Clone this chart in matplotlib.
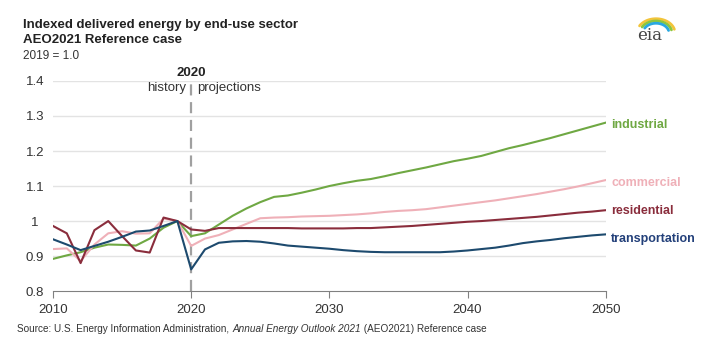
import numpy as np
import matplotlib
matplotlib.use('Agg')
import matplotlib.pyplot as plt

plt.rcParams['font.family'] = ['Liberation Sans', 'DejaVu Sans']

years = list(range(2010, 2051))

industrial = [0.892, 0.902, 0.911, 0.924, 0.933, 0.932, 0.930, 0.950, 0.981, 1.000,
              0.957, 0.965, 0.990, 1.015, 1.036, 1.054, 1.069, 1.073, 1.081, 1.090,
              1.100, 1.108, 1.115, 1.120, 1.128, 1.137, 1.145, 1.153, 1.162, 1.171,
              1.178, 1.186, 1.197, 1.208, 1.217, 1.227, 1.237, 1.248, 1.259, 1.270, 1.281]
commercial = [0.920, 0.922, 0.886, 0.933, 0.965, 0.971, 0.964, 0.965, 1.007, 1.000,
              0.929, 0.950, 0.960, 0.976, 0.992, 1.008, 1.010, 1.011, 1.013, 1.014,
              1.015, 1.017, 1.019, 1.022, 1.026, 1.029, 1.031, 1.034, 1.039, 1.044,
              1.049, 1.054, 1.059, 1.065, 1.071, 1.077, 1.084, 1.091, 1.099, 1.108, 1.117]
residential = [0.986, 0.965, 0.880, 0.974, 1.000, 0.957, 0.916, 0.910, 1.010, 1.000,
               0.976, 0.972, 0.980, 0.980, 0.980, 0.980, 0.980, 0.980, 0.979, 0.979,
               0.979, 0.979, 0.980, 0.980, 0.982, 0.984, 0.986, 0.989, 0.992, 0.995,
               0.998, 1.000, 1.003, 1.006, 1.009, 1.012, 1.016, 1.020, 1.024, 1.027, 1.031]
transportation = [0.948, 0.933, 0.917, 0.929, 0.941, 0.955, 0.970, 0.973, 0.986, 1.000,
                  0.862, 0.919, 0.938, 0.942, 0.943, 0.941, 0.936, 0.930, 0.927, 0.924,
                  0.921, 0.917, 0.914, 0.912, 0.911, 0.911, 0.911, 0.911, 0.911, 0.913,
                  0.916, 0.920, 0.924, 0.930, 0.937, 0.942, 0.946, 0.951, 0.955, 0.959, 0.962]

series = [('industrial', industrial, '#6fa843'),
          ('commercial', commercial, '#efb0b8'),
          ('residential', residential, '#8a2d3c'),
          ('transportation', transportation, '#1d4a6e')]
label_colors = {'industrial': '#6fa843', 'commercial': '#efb0b8',
                'residential': '#8a2d3c', 'transportation': '#23407a'}
# small vertical nudges (points) for the end labels
label_dy = {'industrial': -2, 'commercial': -2, 'residential': -0.7, 'transportation': -3.5}

yticks = [0.8, 0.9, 1.0, 1.1, 1.2, 1.3, 1.4]
ytick_labels = ['0.8', '0.9', '1', '1.1', '1.2', '1.3', '1.4']
xticks = [2010, 2020, 2030, 2040, 2050]

fig = plt.figure(figsize=(7.16, 3.52), dpi=100)
ax = fig.add_axes([0.074, 0.173, 0.772, 0.597])

for y in yticks[1:]:
    ax.axhline(y, color='#e3e3e3', lw=1, zorder=0)

for name, vals, col in series:
    ax.plot(years, vals, color=col, lw=1.5, zorder=3)
    ax.annotate(name, xy=(years[-1], vals[-1]), xytext=(4, label_dy[name]),
                textcoords='offset points', color=label_colors[name], fontsize=9,
                fontweight='bold', va='center', ha='left', annotation_clip=False)

ax.set_xlim(2010, 2050)
ax.set_ylim(0.8, 1.4)
ax.set_yticks(yticks)
ax.set_yticklabels(ytick_labels)
ax.set_xticks(xticks)
for s in ['top', 'right', 'left']:
    ax.spines[s].set_visible(False)
ax.spines['bottom'].set_color('#808080')
ax.tick_params(axis='y', length=0, pad=13, labelsize=9.5, labelcolor='#333333')
for lab in ax.get_yticklabels():
    lab.set_horizontalalignment('center')
ax.tick_params(axis='x', length=5, color='#808080', labelsize=9.5, labelcolor='#333333', pad=4)

# history / projections divider
ax.plot([2020, 2020], [0.8, 1.4], color='#a0a0a0', lw=1.6, ls=(0, (5, 3)),
        zorder=2, clip_on=False)
ax.text(2020, 1.423, '2020', ha='center', va='center', fontsize=9.5, fontweight='bold',
        color='#222222')
ax.text(2019.6, 1.38, 'history', ha='right', va='center', fontsize=9.5, color='#333333')
ax.text(2020.4, 1.38, 'projections', ha='left', va='center', fontsize=9.5, color='#333333')

fig.text(0.032, 0.93, 'Indexed delivered energy by end-use sector', fontsize=9.5,
         fontweight='bold', color='#222222', va='center')
fig.text(0.032, 0.885, 'AEO2021 Reference case', fontsize=9.5, fontweight='bold',
         color='#222222', va='center')
fig.text(0.032, 0.842, '2019 = 1.0', fontsize=8.5, color='#333333', va='center')

# source line, pieces chained one after the other
src = fig.text(0.024, 0.065, 'Source: U.S. Energy Information Administration, ',
               fontsize=7.2, color='#333333', va='center')
src2 = ax.annotate('Annual Energy Outlook 2021', xy=(1, 0.5), xycoords=src,
                   va='center', ha='left', fontsize=7.2, style='italic',
                   color='#333333')
ax.annotate(' (AEO2021) Reference case', xy=(1, 0.5), xycoords=src2, va='center',
            ha='left', fontsize=7.2, color='#333333')

# eia logo, drawn in pixel coords
lax = fig.add_axes([620 / 716, (352 - 45) / 352, 60 / 716, 40 / 352])
lax.set_xlim(0, 60)
lax.set_ylim(40, 0)
lax.axis('off')
lax.text(30, 31, 'eia', family='DejaVu Serif', fontsize=12, color='#444444',
         ha='center', va='center')
t = np.linspace(np.radians(15), np.radians(150), 40)
for r, c in [(19, '#f2c43a'), (16, '#8cc63f'), (13, '#29a8e0')]:
    lax.plot(36 + r * np.cos(t), 28 - r * 0.75 * np.sin(t), color=c, lw=2,
             solid_capstyle='round')

fig.savefig('out.png', dpi=100)
